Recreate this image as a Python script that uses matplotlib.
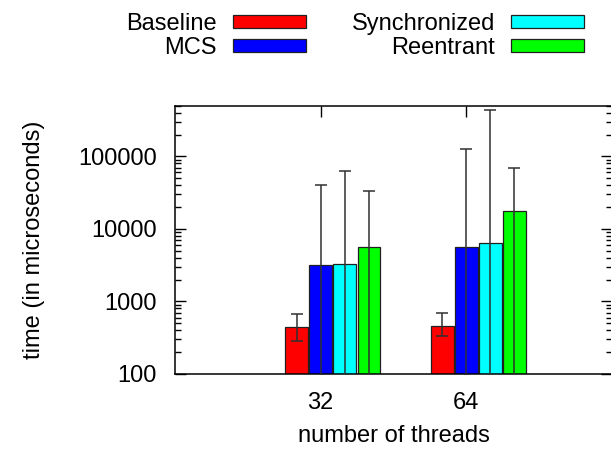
import numpy as np
import matplotlib
matplotlib.use("Agg")
import matplotlib.pyplot as plt

plt.rcParams['font.family'] = ['Liberation Sans', 'DejaVu Sans']

# data (log scale, microseconds)
threads = ['32', '64']
series = ['Baseline', 'MCS', 'Synchronized', 'Reentrant']
colors = ['#ff0000', '#0000ff', '#00ffff', '#00ff00']
means = [[449, 463],        # Baseline
         [3160, 5600],      # MCS
         [3320, 6470],      # Synchronized
         [5650, 17500]]     # Reentrant
err_low = [[288, 331],
           [0, 0],
           [0, 0],
           [0, 0]]
err_high = [[679, 687],
            [40800, 127000],
            [62500, 434000],
            [33100, 70100]]

fig = plt.figure(figsize=(6.11, 4.5), dpi=100)
ax = fig.add_axes([175 / 611, 1 - 374 / 450, 437 / 611, (374 - 105.7) / 450])

x = np.arange(len(threads))
step = 0.165
width = 0.154
for i, name in enumerate(series):
    pos = x + (i - 1) * step
    m = np.array(means[i], dtype=float)
    lo = np.array(err_low[i], dtype=float)
    hi = np.array(err_high[i], dtype=float)
    ax.bar(pos, m, width=width, color=colors[i], edgecolor='#202020',
           linewidth=0.9, label=name, zorder=2)
    ax.errorbar(pos, m, yerr=[m - lo, hi - m], fmt='none', ecolor='#303030',
                elinewidth=1.1, capsize=4, capthick=1.1, zorder=3)

ax.set_yscale('log')
ax.set_ylim(100, 500000)
ax.set_xlim(-1, 2)
ax.set_xticks(x)
ax.set_xticklabels(threads)
ax.set_yticks([100, 1000, 10000, 100000])
ax.set_yticklabels(['100', '1000', '10000', '100000'])

ax.tick_params(axis='both', which='major', direction='in', length=8, width=1,
               top=True, right=True, labelsize=17)
ax.tick_params(axis='y', which='major', pad=13)
ax.tick_params(axis='x', which='major', pad=13)
ax.tick_params(axis='y', which='minor', direction='in', length=4, width=1,
               left=True, right=True)
ax.tick_params(axis='x', which='minor', bottom=False, top=False)
for s in ax.spines.values():
    s.set_linewidth(1.1)

ax.set_xlabel('number of threads', fontsize=17, labelpad=8)
ax.set_ylabel('time (in microseconds)', fontsize=17, labelpad=24)

fig.legend(loc='upper left', bbox_to_anchor=(126 / 611, 1 - 13 / 450),
           ncol=2, frameon=False, markerfirst=False, fontsize=17,
           handlelength=3.09, handleheight=0.5, handletextpad=0.68,
           columnspacing=1.95, labelspacing=0.07, borderpad=0, borderaxespad=0)

fig.savefig('out.png', dpi=100)
